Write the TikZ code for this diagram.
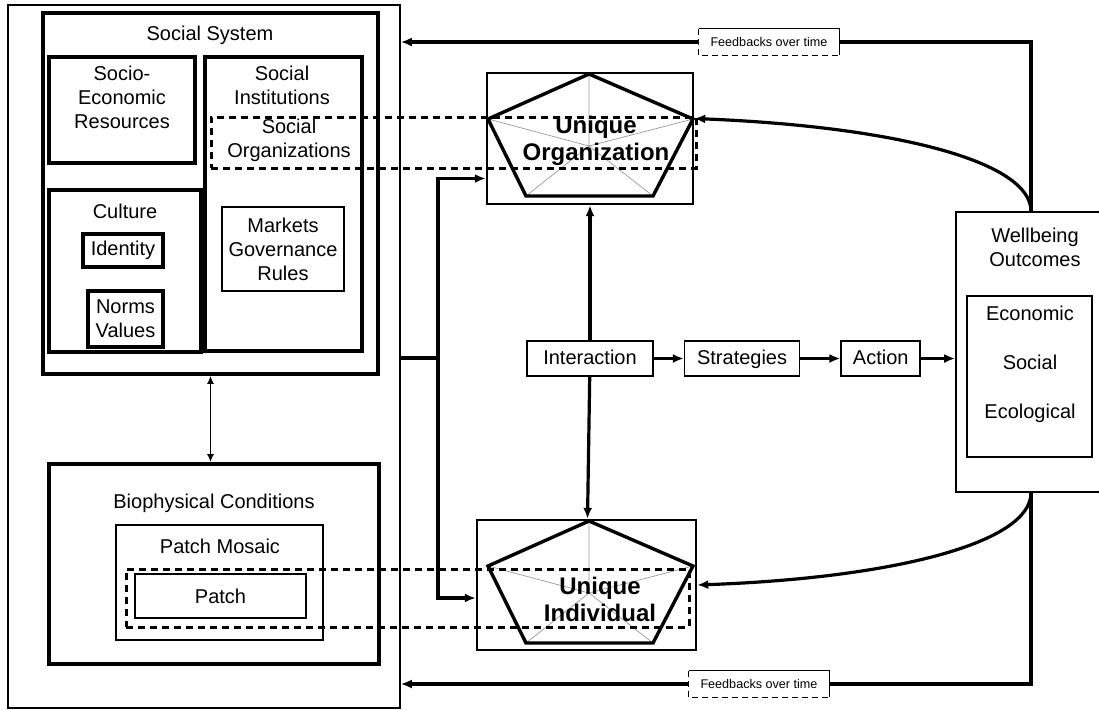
\documentclass[tikz,border=0pt]{standalone}
\usepackage{fontspec}
\setmainfont{Liberation Sans}
\usetikzlibrary{positioning,fit,arrows.meta}

\tikzset{
    big box/.style={draw,line width=1.8pt,inner sep=0pt,fit={#1}},
    thin box/.style={draw,line width=0.8pt,inner sep=0pt,fit={#1}},
    mid box/.style={draw,line width=1.2pt,inner sep=0pt,fit={#1}},
    dash box/.style={draw,line width=1.5pt,dash pattern=on 3.5pt off 2.5pt,inner sep=0pt,fit={#1}},
}

\begin{document}
\begin{tikzpicture}[x=0.5pt,y=-0.5pt,
    every node/.style={font=\fontsize{10}{12}\selectfont,align=center},
    step box/.style={draw,line width=0.8pt,minimum height=17.5pt,inner sep=0pt,
        text height=7.5pt,text depth=2pt},
    tag/.style={font=\fontsize{6.3}{7}\selectfont,minimum width=70pt,minimum height=13pt,inner sep=0pt},
    arr/.style={line width=1.6pt,-{Latex[length=5.5pt,width=4.5pt]}},
    pent/.style={line width=1.7pt},
    spoke/.style={black!40,line width=0.35pt},
    title/.style={font=\bfseries\fontsize{12}{13.5}\selectfont}]

    \useasboundingbox (0,0) rectangle (1099,709);

    % social system and biophysical side
    \node[thin box={(8,5)(400,708)}] (outer) {};
    \node[big box={(43,13)(378,374)}] (social) {};
    \node at (210,35) (socialt) {Social System};
    \node[big box={(49,57)(195,163)}] (res) {};
    \node at (122,97) (rest) {Socio-\\Economic\\Resources};
    \node[big box={(205,57)(362,351)}] (inst) {};
    \node at (282,85) (instt) {Social\\Institutions};
    \node[draw,line width=0.8pt,minimum width=61pt,minimum height=42pt,inner sep=0pt]
        at (283,249) (markets) {Markets\\Governance\\Rules};
    \node[big box={(49,190)(201,352)}] (culture) {};
    \node at (125,211) (culturet) {Culture};
    \node[draw,line width=1.8pt,minimum width=40pt,minimum height=16.5pt,inner sep=0pt]
        at (123,250.5) (identity) {Identity};
    \node[draw,line width=1.8pt,minimum width=37.5pt,minimum height=28pt,inner sep=0pt]
        at (125.5,319) (norms) {Norms\\Values};

    \node[big box={(49,464)(379,664)}] (bio) {};
    \node at (214,503) (biot) {Biophysical Conditions};
    \node[thin box={(116,525)(323,640)}] (mosaic) {};
    \node at (220,546) (mosaict) {Patch Mosaic};
    \node[draw,line width=1.1pt,minimum width=85.5pt,minimum height=22pt,inner sep=0pt]
        at (220.5,596) (patch) {Patch};

    % unique organization and individual
    \node[mid box={(487,73)(693,204)}] (org) {};
    \node[mid box={(477,520)(696,650)}] (ind) {};
    \coordinate (orgc) at (589,146);
    \coordinate (indc) at (589,593);
    \foreach \c in {orgc,indc}{
        \draw[spoke,shift={(\c)}] (0,0) -- (0,-72) (0,0) -- (-101,-27)
            (0,0) -- (-63,50) (0,0) -- (64,50) (0,0) -- (104,-27);
        \draw[pent,shift={(\c)}] (0,-72) -- (-101,-27) -- (-63,50) -- (64,50)
            -- (104,-27) -- cycle;
    }
    \node[dash box={(211,117)(696,168)}] (socorg) {};
    \node at (289,140) (socorgt) {Social\\Organizations};
    \node[dash box={(126,569)(689,627)}] (patchzone) {};
    \node[title] at (596,141) (orgt) {Unique\\Organization};
    \node[title] at (600,599) (indt) {Unique\\Individual};

    % process chain
    \node[step box,minimum width=63pt] at (590,358.5) (inter) {Interaction};
    \node[step box,minimum width=57.5pt,right=15pt of inter] (strat) {Strategies};
    \node[step box,minimum width=39.5pt,right=20pt of strat] (action) {Action};

    % outcomes
    \node[thin box={(956,212)(1106,492)}] (wb) {};
    \node at (1035,247) (wbt) {Wellbeing\\Outcomes};
    \node[thin box={(967,296)(1092,457)}] (dims) {};
    \node[font=\fontsize{10}{24.5}\selectfont] at (1030,364) (dimst) {Economic\\Social\\Ecological};

    \node[tag] at (769,42) (fbtop) {Feedbacks over time};
    \node[tag] at (759,684) (fbbot) {Feedbacks over time};
    \foreach \t in {fbtop,fbbot}{
        \draw[line width=0.7pt] (\t.north west) -- (\t.north east) -- (\t.south east);
        \draw[line width=0.6pt,densely dashed] (\t.north west) -- (\t.south west) -- (\t.south east);
    }

    % connectors
    \draw[arr] (inter) -- (strat);
    \draw[arr] (strat) -- (action);
    \draw[arr] (action) -- (action -| wb.west);
    \draw[arr] (inter) -- (org);
    \draw[arr] (inter) -- (ind);
    \draw[line width=0.9pt,{Latex[length=4pt,width=3.5pt]}-{Latex[length=4pt,width=3.5pt]}]
        (social.south) -- (social.south |- bio.north);

    \coordinate (split) at (438,358);
    \draw[line width=1.6pt] (outer.east |- split) -- (split);
    \draw[arr] (split) |- ([yshift=-20pt]org.west);
    \draw[arr] (split) |- ([yshift=-6.5pt]ind.west);

    \draw[line width=1.6pt] (wb.north) |- (fbtop.east);
    \draw[arr] (fbtop.west) -- (outer.east |- fbtop.west);
    \draw[line width=1.6pt] (wb.south) |- (fbbot.east);
    \draw[arr] (fbbot.west) -- (outer.east |- fbbot.west);

    \draw[arr] (wb.north) .. controls +(0,-50) and +(200,8) .. ([yshift=10pt]org.east);
    \draw[arr] (wb.south) .. controls +(0,50) and +(197,-7) .. (ind.east);
\end{tikzpicture}
\end{document}
